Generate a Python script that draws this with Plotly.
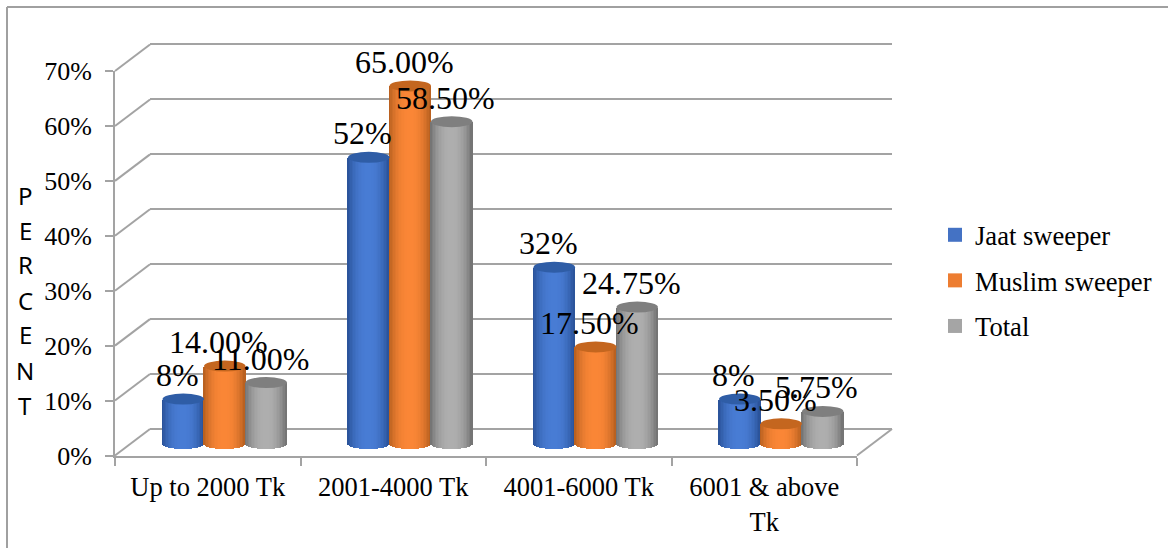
import math
import plotly.graph_objects as go

# Chart data
categories = ["Up to 2000 Tk", "2001-4000 Tk", "4001-6000 Tk", "6001 &amp; above<br>Tk"]
jaat_sweeper = [8, 52, 32, 8]
muslim_sweeper = [14.00, 65.00, 17.50, 3.50]
total = [11.00, 58.50, 24.75, 5.75]
y_ticks = [0, 10, 20, 30, 40, 50, 60, 70]
axis_letters = ["P", "E", "R", "C", "E", "N", "T"]

W, H = 1168, 548
FRONT_LEFT, FRONT_RIGHT = 115, 857
FLOOR_Y, TOP_Y = 455.5, 71
DEPTH_X, DEPTH_Y = 35, -26.5
PX_PER_UNIT = (FLOOR_Y - TOP_Y) / 70
GRID = "#a3a3a3"
SERIF = "Liberation Serif, Times New Roman, serif"

def xfrac(px):
    return px / W

def yfrac(px):
    return 1 - px / H

def ypx(value, shift=0):
    return FLOOR_Y - value * PX_PER_UNIT + shift

# Cylinders stand halfway between the front edge and the back wall of the floor
MID_X, MID_Y = 17, -12.5
BAR_BELOW = 2
BAR_W = 0.2236
ELLIPSE_HALF = 5.5
STRIPS = 28

series = [
    dict(name="Jaat sweeper", values=jaat_sweeper, swatch="#4472c4", edge=(40, 80, 150), mid=(72, 124, 212),
         top="#2f5da6", fmt="{:.0f}%", shift=-1),
    dict(name="Muslim sweeper", values=muslim_sweeper, swatch="#ed7d31", edge=(180, 94, 30), mid=(250, 134, 54),
         top="#c4661f", fmt="{:.2f}%", shift=0),
    dict(name="Total", values=total, swatch="#a5a5a5", edge=(112, 112, 112), mid=(174, 174, 174),
         top="#7f7f7f", fmt="{:.2f}%", shift=1),
]

fig = go.Figure()

# The first subplot holds the back wall so it sits under everything else
fig.add_trace(go.Scatter(x=[None], y=[None], xaxis="x", yaxis="y", showlegend=False, hoverinfo="skip"))
fig.add_trace(go.Scatter(x=[None], y=[None], xaxis="x2", yaxis="y2", showlegend=False, hoverinfo="skip"))

def shade(edge, mid, t):
    k = 1 - abs(t) ** 2.4
    return "rgb({},{},{})".format(*[round(e + (m - e) * k) for e, m in zip(edge, mid)])

for s in series:
    for i in range(STRIPS):
        t = (i + 0.5) / STRIPS * 2 - 1
        round_off = ELLIPSE_HALF / PX_PER_UNIT * math.sqrt(1 - t * t)
        fig.add_trace(go.Bar(
            x=[c + s["shift"] * BAR_W + t * BAR_W / 2 for c in range(len(categories))],
            y=[v + round_off for v in s["values"]],
            base=[-round_off] * len(categories),
            width=BAR_W / STRIPS * 1.2,
            marker=dict(color=shade(s["edge"], s["mid"], t), line_width=0),
            xaxis="x3", yaxis="y3", showlegend=False, hoverinfo="skip",
        ))

# Legend entries
for s in series:
    fig.add_trace(go.Scatter(
        x=[None], y=[None], mode="markers", name=s["name"], legendgroup=s["name"],
        marker=dict(symbol="square", size=14, color=s["swatch"]),
        xaxis="x3", yaxis="y3",
    ))

shapes = []

# Outer frame
for x0, y0, x1, y1 in [(7, 7, W, 7), (7, 7, 7, H)]:
    shapes.append(dict(type="line", xref="paper", yref="paper", layer="below",
                       x0=xfrac(x0), y0=yfrac(y0), x1=xfrac(x1), y1=yfrac(y1),
                       line=dict(color="#a0a0a0", width=2)))

# Side-wall and floor edges joining the front axis to the back wall
for v in y_ticks:
    shapes.append(dict(type="line", xref="paper", yref="paper", layer="below",
                       x0=xfrac(FRONT_LEFT), y0=yfrac(ypx(v)),
                       x1=xfrac(FRONT_LEFT + DEPTH_X), y1=yfrac(ypx(v) + DEPTH_Y),
                       line=dict(color=GRID, width=2)))
shapes.append(dict(type="line", xref="paper", yref="paper", layer="below",
                   x0=xfrac(FRONT_RIGHT), y0=yfrac(FLOOR_Y),
                   x1=xfrac(FRONT_RIGHT + DEPTH_X), y1=yfrac(FLOOR_Y + DEPTH_Y),
                   line=dict(color=GRID, width=2)))

# Cylinder tops
for s in series:
    for c, v in enumerate(s["values"]):
        mid = c + s["shift"] * BAR_W
        shapes.append(dict(type="circle", xref="x3", yref="y3", ysizemode="pixel",
                           yanchor=v, y0=-ELLIPSE_HALF, y1=ELLIPSE_HALF,
                           x0=mid - BAR_W / 2, x1=mid + BAR_W / 2,
                           fillcolor=s["top"], line_width=0))

annotations = []

# Data labels
for s in series:
    for c, v in enumerate(s["values"]):
        annotations.append(dict(
            x=c + s["shift"] * BAR_W, y=v, xref="x3", yref="y3", showarrow=False,
            xshift=-6, yshift=24,
            text=s["fmt"].format(v), font=dict(family=SERIF, size=32, color="#000000"),
        ))

# Stacked letters of the value-axis title
for i, letter in enumerate(axis_letters):
    annotations.append(dict(
        x=xfrac(25), y=yfrac(195 + i * 35), xref="paper", yref="paper", showarrow=False,
        xanchor="center", yanchor="middle",
        text=letter, font=dict(family="Noto Sans, Open Sans, sans-serif", size=24, color="#000000"),
    ))

fig.update_layout(
    template="none",
    width=W, height=H, margin=dict(l=0, r=0, t=0, b=0, pad=0),
    autosize=False,
    paper_bgcolor="white", plot_bgcolor="rgba(0,0,0,0)",
    barmode="overlay", bargap=0,
    shapes=shapes, annotations=annotations,
    legend=dict(x=xfrac(935), y=yfrac(211), xanchor="left", yanchor="top",
                font=dict(family=SERIF, size=26.6, color="#000000"),
                tracegroupgap=8, itemwidth=30, bgcolor="rgba(0,0,0,0)"),
    # Back wall with its gridlines; the range runs past 0 and 70 so both end lines are kept
    xaxis=dict(domain=[xfrac(FRONT_LEFT + DEPTH_X), xfrac(FRONT_RIGHT + DEPTH_X)], range=[-0.5, 3.5],
               anchor="y", showticklabels=False, ticks="", showgrid=False, zeroline=False,
               showline=False, automargin=False),
    yaxis=dict(domain=[yfrac(ypx(-1, DEPTH_Y)), yfrac(ypx(71, DEPTH_Y))], range=[-1, 71],
               anchor="x", tickmode="array", tickvals=y_ticks, showticklabels=False, ticks="",
               showgrid=True, gridcolor=GRID, gridwidth=2, zeroline=False, showline=False,
               automargin=False),
    # Front axes: category and percentage ticks
    xaxis2=dict(domain=[xfrac(FRONT_LEFT), xfrac(FRONT_RIGHT)], range=[-0.5, 3.5], anchor="y2",
                tickmode="array", tickvals=list(range(4)), ticktext=categories, ticks="",
                ticklabelstandoff=7, tickangle=0, automargin=False,
                tickfont=dict(family=SERIF, size=26.5, color="#000000"),
                showline=True, linecolor=GRID, linewidth=2, showgrid=False, zeroline=False,
                minor=dict(tickmode="array", tickvals=[-0.5, 0.5, 1.5, 2.5, 3.5], ticks="outside",
                           ticklen=8, tickcolor=GRID, tickwidth=1.5, showgrid=False)),
    yaxis2=dict(domain=[yfrac(FLOOR_Y), yfrac(TOP_Y)], range=[0, 70], anchor="x2",
                tickmode="array", tickvals=y_ticks, ticktext=[f"{v}%" for v in y_ticks],
                ticks="outside", ticklen=8, tickcolor=GRID, tickwidth=1.5, ticklabelstandoff=8,
                tickfont=dict(family=SERIF, size=26, color="#000000"), automargin=False,
                showline=True, linecolor=GRID, linewidth=2, showgrid=False, zeroline=False),
    # Cylinder plane
    xaxis3=dict(domain=[xfrac(FRONT_LEFT + MID_X), xfrac(FRONT_RIGHT + MID_X)], range=[-0.5, 3.5],
                anchor="y3", visible=False, automargin=False),
    yaxis3=dict(domain=[yfrac(ypx(-BAR_BELOW, MID_Y)), yfrac(TOP_Y + MID_Y)], range=[-BAR_BELOW, 70],
                anchor="x3", visible=False, automargin=False),
)

fig.write_html("out.html")
